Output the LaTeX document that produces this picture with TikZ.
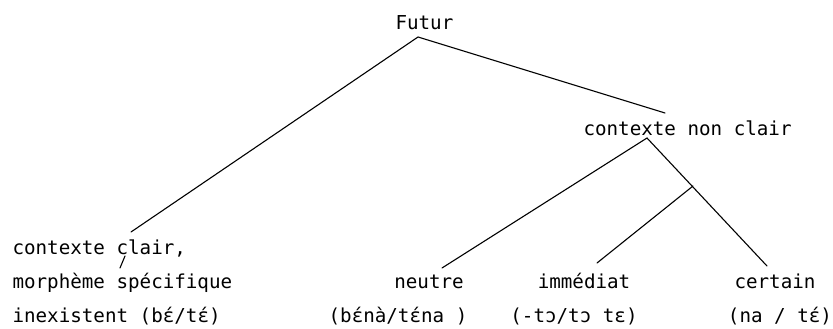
\documentclass[tikz,border=0pt]{standalone}
\usepackage{fontspec}
\setmonofont{DejaVu Sans Mono}
\usetikzlibrary{positioning}

\begin{document}
\begin{tikzpicture}[x=1pt,y=-1pt,line width=1.1pt,line cap=round]
  \tikzstyle{txt}=[inner sep=0pt,font=\ttfamily\fontsize{19.2}{23}\selectfont]
  \useasboundingbox (0,0) rectangle (833,329);
  \node[txt,anchor=base west] (futur) at (395,30) {Futur};
  \node[txt,anchor=base west] (nonclair) at (583,135) {contexte non clair};
  \node[txt,anchor=base west] (clair) at (12,254) {contexte clair,};
  \node[txt,anchor=base west] (morph) at (12,288) {morphème spécifique};
  \node[txt,anchor=base west] (inex) at (12,322) {inexistent (bɛ́/tɛ́)};
  \node[txt,anchor=base] (neutre) at (429,288) {neutre};
  \node[txt,anchor=base] (immed) at (584,288) {immédiat};
  \node[txt,anchor=base] (certain) at (775,288) {certain};
  \node[txt,anchor=base] (fneutre) at (398,322) {(bɛ́nà/tɛ́na )};
  \node[txt,anchor=base] (fimmed) at (574,322) {(-tɔ/tɔ tɛ)};
  \node[txt,anchor=base] (fcertain) at (780,322) {(na / tɛ́)};
  \coordinate (top) at (418,37);
  \coordinate (lend) at (131,232);
  \coordinate (rend) at (665,113);
  \coordinate (br1) at (647,138);
  \coordinate (br2) at (693,186);
  \coordinate (nend) at (442,268);
  \coordinate (iend) at (597,263);
  \coordinate (cend) at (767,266);
  \coordinate (tick1) at (125,256);
  \coordinate (tick2) at (120,268);
  \draw (lend) -- (top) -- (rend);
  \draw (nend) -- (br1) -- (cend);
  \draw (br2) -- (iend);
  \draw (tick1) -- (tick2);
\end{tikzpicture}
\end{document}
